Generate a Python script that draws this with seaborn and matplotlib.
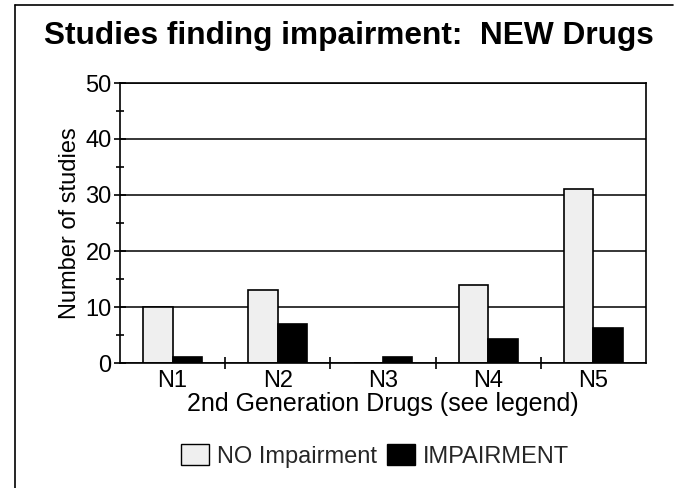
import matplotlib
matplotlib.use("Agg")
import matplotlib.pyplot as plt
import seaborn as sns
import pandas as pd
from matplotlib.lines import Line2D
from matplotlib.patches import Patch

categories = ["N1", "N2", "N3", "N4", "N5"]
no_impairment = [10, 13, 0, 14, 31]
impairment = [1, 7, 1, 4.2, 6.3]
series_names = ["NO Impairment", "IMPAIRMENT"]
title = "Studies finding impairment:  NEW Drugs"
xlabel = "2nd Generation Drugs (see legend)"
ylabel = "Number of studies"
yticks = [0, 10, 20, 30, 40, 50]

sns.set_theme(style="white")
plt.rcParams['font.family'] = ['Liberation Sans', 'DejaVu Sans']

df = pd.DataFrame({
    "drug": categories * 2,
    "series": [series_names[0]] * len(categories) + [series_names[1]] * len(categories),
    "count": no_impairment + impairment,
})

fig = plt.figure(figsize=(6.77, 4.88), dpi=100)
ax = fig.add_axes([120/677, 1-363/488, (646-120)/677, (363-83)/488])

palette = {series_names[0]: "#efefef", series_names[1]: "#000000"}
sns.barplot(data=df, x="drug", y="count", hue="series", palette=palette,
            width=0.56, gap=0, saturation=1, edgecolor="black", linewidth=1.2,
            ax=ax, legend=False)

n = len(categories)
ax.set_ylim(0, 50)
ax.set_xlim(-0.5, n - 0.5)
ax.set_yticks(yticks)
ax.set_yticks(range(5, 50, 10), minor=True)
ax.set_xticks([i + 0.5 for i in range(n - 1)], minor=True)
ax.set_xticks(range(n))
ax.set_xticklabels(categories)
ax.tick_params(axis='x', which='major', length=0, labelsize=17, pad=5, colors='black')
ax.tick_params(axis='x', which='minor', direction='inout', length=8, width=1.2, bottom=True, color='black')
ax.tick_params(axis='y', which='both', direction='inout', left=True, length=8, width=1.2, labelsize=17, color='black', labelcolor='black', pad=2)
ax.tick_params(axis='y', which='minor', length=6)
ax.grid(axis='y', color='black', linewidth=1.1)
ax.set_axisbelow(True)
for s in ax.spines.values():
    s.set_color('black')
    s.set_linewidth(1.2)
    s.set_visible(True)

ax.set_xlabel(xlabel, fontsize=18, color='black', labelpad=0)
ax.set_ylabel(ylabel, fontsize=17, color='black', labelpad=3)

fig.text(349/677, 1 - 36/488, title, ha='center', va='center', fontsize=22.8,
         fontweight='bold', color='black')

handles = [Patch(facecolor=palette[series_names[0]], edgecolor='black', linewidth=1.0),
           Patch(facecolor=palette[series_names[1]], edgecolor='black', linewidth=1.0)]
fig.legend(handles, series_names, loc='center', bbox_to_anchor=(375/677, 1 - 456/488),
           ncol=2, frameon=False, fontsize=17, handlelength=1.2, handleheight=1.0,
           handletextpad=0.35, columnspacing=0.4)

fig.add_artist(Line2D([15/677, 15/677], [0, 1 - 5/488], color='black', linewidth=1.2, transform=fig.transFigure))
fig.add_artist(Line2D([15/677, 673/677], [1 - 5/488, 1 - 5/488], color='black', linewidth=1.2, transform=fig.transFigure))

fig.savefig("out.png", dpi=100)
